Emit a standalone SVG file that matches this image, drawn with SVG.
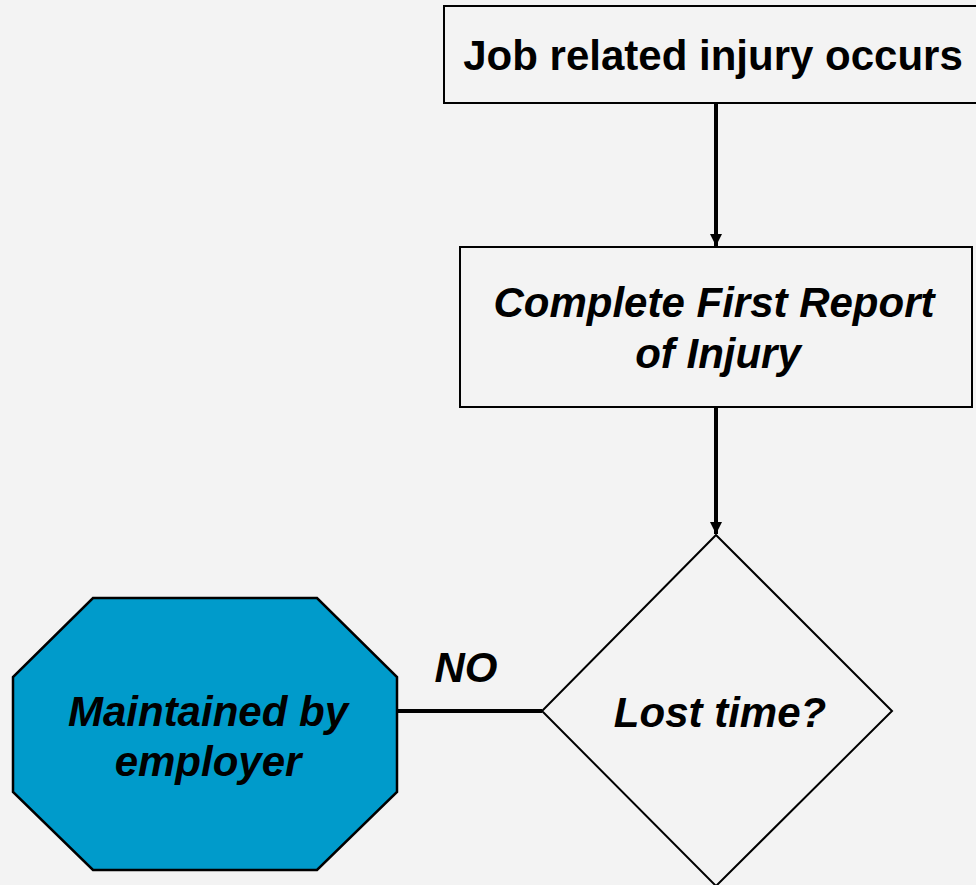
<svg xmlns="http://www.w3.org/2000/svg" width="976" height="885" viewBox="0 0 976 885">
  <style>
    .box { fill: none; stroke: #000; stroke-width: 2; }
    .oct { fill: #009bcb; stroke: #000; stroke-width: 2.5; }
    .wire { stroke: #000; stroke-width: 4; fill: none; }
    .t { font-family: "Liberation Sans", Arial, sans-serif; font-weight: bold; font-size: 42px; fill: #000; text-anchor: middle; }
    .i { font-style: italic; }
  </style>
  <defs>
    <marker id="head" viewBox="0 0 10 10" refX="10" refY="5" markerWidth="3" markerHeight="3" markerUnits="strokeWidth" orient="auto">
      <path d="M0,0 L10,5 L0,10 Z" fill="#000"/>
    </marker>
  </defs>
  <rect width="976" height="885" fill="#f3f3f3"/>

  <g id="connectors">
    <line class="wire" x1="716" y1="103" x2="716" y2="246" marker-end="url(#head)"/>
    <line class="wire" x1="716" y1="407" x2="716" y2="534" marker-end="url(#head)"/>
    <line class="wire" x1="397" y1="711" x2="542" y2="711"/>
    <text class="t i" x="466" y="682">NO</text>
  </g>

  <g id="injury">
    <rect class="box" x="444" y="6" width="540" height="97"/>
    <text class="t" x="713" y="70">Job related injury occurs</text>
  </g>

  <g id="first-report">
    <rect class="box" x="460" y="247" width="512" height="160"/>
    <text class="t i" x="714" y="317">Complete First Report</text>
    <text class="t i" x="718" y="368">of Injury</text>
  </g>

  <g id="lost-time">
    <polygon class="box" points="716,535 892,711 716,886 542,711"/>
    <text class="t i" x="720" y="727">Lost time?</text>
  </g>

  <g id="employer">
    <polygon class="oct" points="93,598 317,598 397,677 397,792 317,870 93,870 13,792 13,677"/>
    <text class="t i" x="208" y="726">Maintained by</text>
    <text class="t i" x="208" y="776">employer</text>
  </g>
</svg>
